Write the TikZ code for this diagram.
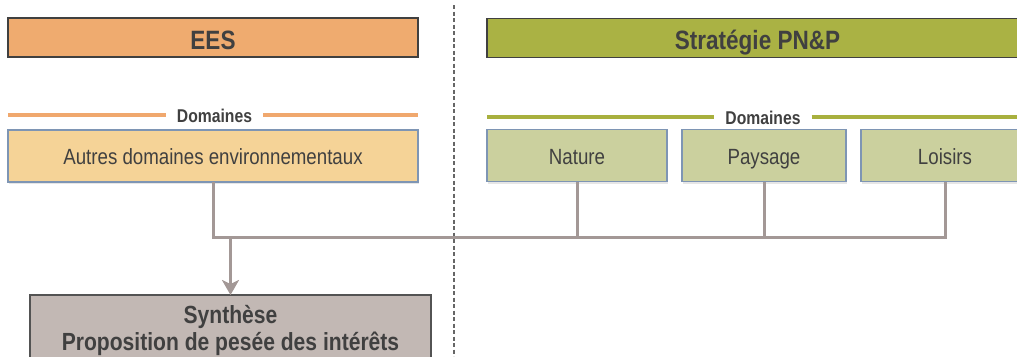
\documentclass[tikz,border=0pt]{standalone}
\usepackage{fontspec}
\setmainfont{Liberation Sans}[FakeStretch=0.85]
\usetikzlibrary{arrows.meta,shadows}
\definecolor{eesfill}{HTML}{EFAB6F}
\definecolor{eesline}{HTML}{F0A86E}
\definecolor{pnpfill}{HTML}{AAB244}
\definecolor{pnpline}{HTML}{A8B03E}
\definecolor{autresfill}{HTML}{F5D397}
\definecolor{domfill}{HTML}{CBD09E}
\definecolor{domborder}{HTML}{7E95B4}
\definecolor{connect}{HTML}{A39896}
\definecolor{synthfill}{HTML}{C2B8B4}
\definecolor{txt}{HTML}{404040}
\begin{document}
\begin{tikzpicture}[x=1pt,y=-1pt,
  titlebox/.style={draw=txt, line width=1.8pt, inner sep=0, outer sep=0,
    minimum height=39pt, text=txt, text height=23pt, text depth=0pt,
    font=\fontsize{26.5}{30}\selectfont\bfseries},
  dombox/.style={draw=domborder, line width=1.6pt, inner sep=0, outer sep=0,
    minimum height=52pt, text=txt, text height=17pt, text depth=0pt,
    font=\fontsize{22}{26}\selectfont,
    drop shadow={shadow xshift=1pt, shadow yshift=-2pt, opacity=0.2}},
  domlabel/.style={inner xsep=11pt, inner ysep=0, outer sep=0, text=txt,
    text height=14pt, text depth=0pt, font=\fontsize{18.5}{20}\selectfont\bfseries},
  conn/.style={draw=connect, line width=3pt},
]
\clip (0,0) rectangle (1017,356);
\draw [txt!80, line width=2.2pt, dash pattern=on 4pt off 2.5pt] (454,5) -- (454,356);
% titres
\node [titlebox, fill=eesfill, minimum width=410pt] (ees) at (213,37.5) {EES};
\node [titlebox, fill=pnpfill, minimum width=541pt] (pnp) at (757.5,38) {Stratégie PN\&P};
% domaines
\node [domlabel] (domees) at (214.5,115) {Domaines};
\node [domlabel] (dompnp) at (763,117) {Domaines};
\node [dombox, fill=autresfill, minimum width=410pt] (autres) at (213,156) {Autres domaines environnementaux};
\node [dombox, fill=domfill, minimum width=180pt] (nature) at (577,155.5) {Nature};
\node [dombox, fill=domfill, minimum width=164pt] (paysage) at (764,155.5) {Paysage};
\node [dombox, fill=domfill, minimum width=168pt] (loisirs) at (945,155.5) {Loisirs};
\draw [eesline, line width=4pt] (autres.west |- domees) -- (domees.west);
\draw [eesline, line width=4pt] (domees.east) -- (autres.east |- domees);
\draw [pnpline, line width=4pt] (nature.west |- dompnp) -- (dompnp.west);
\draw [pnpline, line width=4pt] (dompnp.east) -- (loisirs.east |- dompnp);
% synthese
\node [draw=txt!90, line width=1.8pt, fill=synthfill, anchor=north, minimum width=401pt,
  inner xsep=0, inner ysep=10pt, outer sep=0, align=center, text=txt,
  font=\fontsize{24.8}{27}\selectfont\bfseries] (synth) at (230.5,295)
  {Synthèse\\Proposition de pesée des intérêts};
% liaisons
\coordinate (bus) at (0,237);
\draw [conn] (autres.south) |- (bus -| loisirs.south) -- (loisirs.south);
\draw [conn] (nature.south) -- (nature.south |- bus);
\draw [conn] (paysage.south) -- (paysage.south |- bus);
\draw [conn, -{Stealth[length=15pt,width=17pt,inset=4pt]}] (synth.north |- bus) -- (synth.north);
\end{tikzpicture}
\end{document}
